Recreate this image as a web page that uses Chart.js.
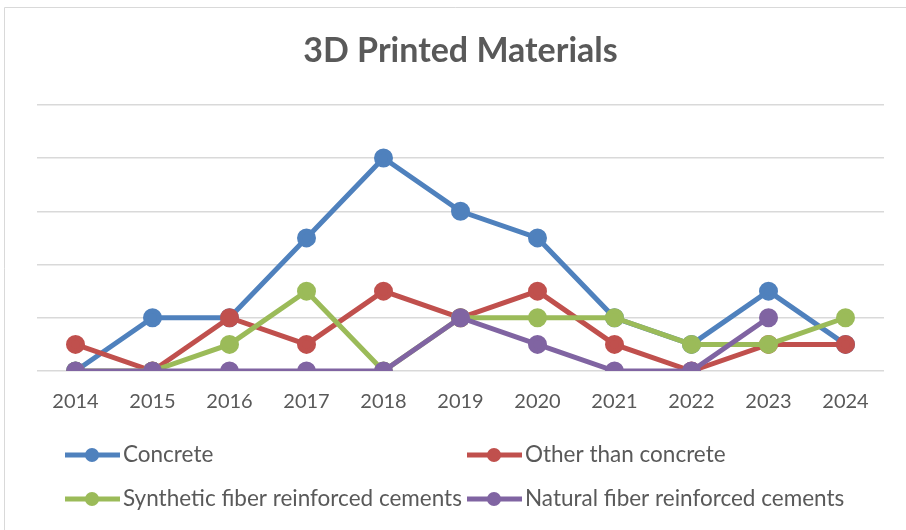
<!DOCTYPE html>
<html>
<head>
<meta charset="utf-8">
<script src="https://cdn.jsdelivr.net/npm/chart.js@4.4.1/dist/chart.umd.min.js"></script>
<style>
  html, body { margin: 0; padding: 0; background: #fff; }
  #wrap { width: 906px; height: 530px; position: relative; }
</style>
</head>
<body>
<div id="wrap"><canvas id="materialsChart" width="906" height="530"></canvas></div>
<script>
const years = ["2014", "2015", "2016", "2017", "2018", "2019", "2020", "2021", "2022", "2023", "2024"];
const concrete = [0, 2, 2, 5, 8, 6, 5, 2, 1, 3, 1];
const otherThanConcrete = [1, 0, 2, 1, 3, 2, 3, 1, 0, 1, 1];
const syntheticFiber = [0, 0, 1, 3, 0, 2, 2, 2, 1, 1, 2];
const naturalFiber = [0, 0, 0, 0, 0, 2, 1, 0, 0, 2, null];

const textColor = "#595959";
const font = "Lato, 'Liberation Sans', sans-serif";

function series(label, data, color, order) {
  return {
    label: label,
    data: data,
    borderColor: color,
    backgroundColor: color,
    pointBackgroundColor: color,
    pointBorderColor: color,
    borderWidth: 5,
    pointRadius: 7,
    pointHoverRadius: 7,
    tension: 0,
    fill: false,
    order: order,
  };
}

// frame around the chart + two-column legend drawn under the axis
const frameAndLegend = {
  id: "frameAndLegend",
  beforeDraw(chart) {
    const c = chart.ctx;
    c.save();
    c.strokeStyle = "#d9d9d9";
    c.lineWidth = 1;
    c.beginPath();
    c.moveTo(4.5, 530);
    c.lineTo(4.5, 7.5);
    c.lineTo(906, 7.5);
    c.stroke();
    c.restore();
  },
  afterDraw(chart) {
    const c = chart.ctx;
    const spots = [
      { x: 65, y: 455 },
      { x: 467, y: 455 },
      { x: 65, y: 499 },
      { x: 467, y: 499 },
    ];
    c.save();
    chart.data.datasets.forEach((ds, i) => {
      const p = spots[i];
      c.strokeStyle = ds.borderColor;
      c.lineWidth = 5;
      c.beginPath();
      c.moveTo(p.x, p.y);
      c.lineTo(p.x + 55, p.y);
      c.stroke();
      c.fillStyle = ds.borderColor;
      c.beginPath();
      c.arc(p.x + 27, p.y, 7, 0, Math.PI * 2);
      c.fill();
      c.fillStyle = textColor;
      c.font = "22.5px " + font;
      c.textBaseline = "middle";
      c.fillText(ds.label, p.x + 58, p.y);
    });
    c.restore();
  },
};

const ctx = document.getElementById("materialsChart").getContext("2d");
new Chart(ctx, {
  type: "line",
  data: {
    labels: years,
    datasets: [
      series("Concrete", concrete, "#4f81bd", 3),
      series("Other than concrete", otherThanConcrete, "#c0504d", 2),
      series("Synthetic fiber reinforced cements", syntheticFiber, "#9bbb59", 1),
      series("Natural fiber reinforced cements", naturalFiber, "#8064a2", 0),
    ],
  },
  options: {
    responsive: false,
    animation: false,
    spanGaps: false,
    layout: {
      padding: { top: 7, left: 37, right: 22, bottom: 105 },
    },
    plugins: {
      legend: { display: false },
      tooltip: { enabled: false },
      title: {
        display: true,
        text: "3D Printed Materials",
        color: textColor,
        font: { family: font, size: 34, weight: "bold" },
        padding: { top: 24, bottom: 33 },
      },
    },
    scales: {
      x: {
        offset: true,
        grid: { display: false },
        border: { display: false },
        ticks: {
          color: textColor,
          font: { family: font, size: 20 },
          padding: 11,
          maxRotation: 0,
        },
      },
      y: {
        min: 0,
        max: 10,
        ticks: { display: false, stepSize: 2 },
        grid: { color: "#d9d9d9", lineWidth: 1.5, drawTicks: false },
        border: { display: false },
      },
    },
  },
  plugins: [frameAndLegend],
});
</script>
</body>
</html>
